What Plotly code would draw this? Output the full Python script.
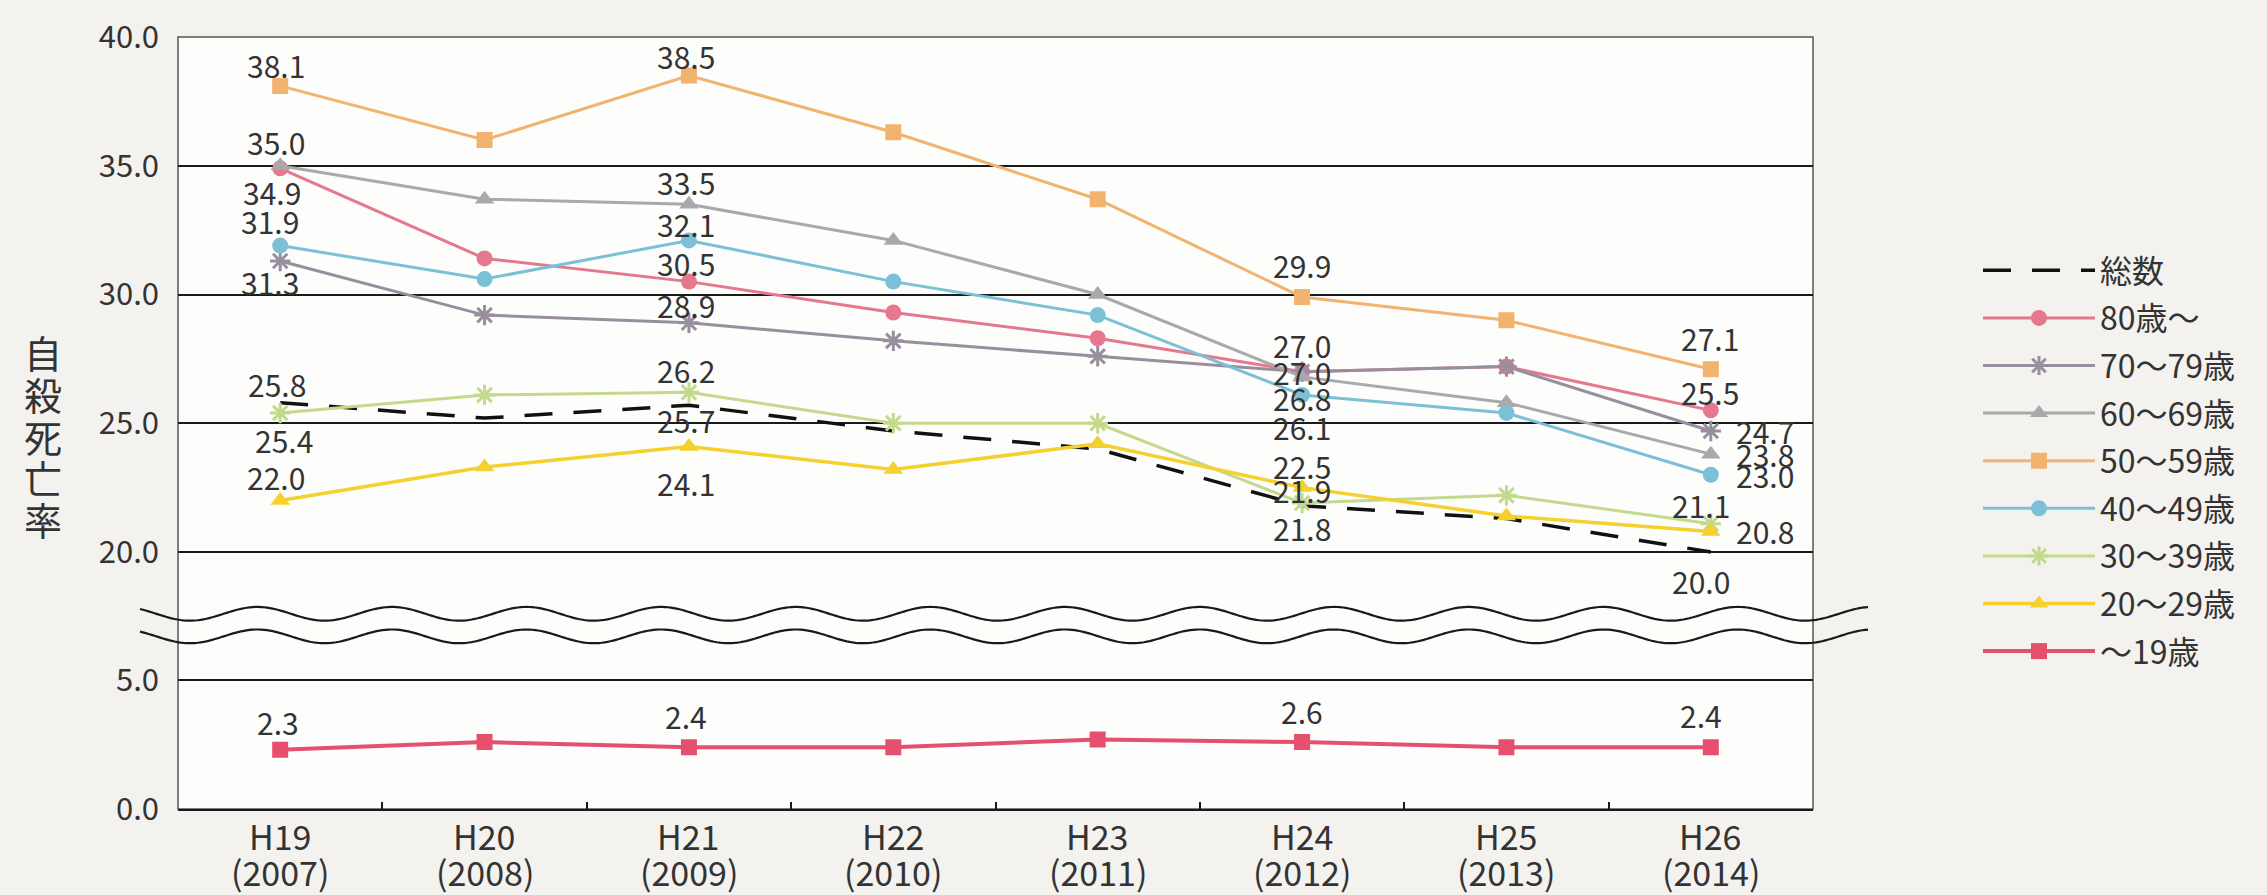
import numpy as np
import plotly.graph_objects as go

# ---- data -------------------------------------------------------------
years = ["H19", "H20", "H21", "H22", "H23", "H24", "H25", "H26"]
years_ad = ["(2007)", "(2008)", "(2009)", "(2010)", "(2011)", "(2012)", "(2013)", "(2014)"]

total = [25.8, 25.2, 25.7, 24.7, 24.0, 21.8, 21.3, 20.0]
age80 = [34.9, 31.4, 30.5, 29.3, 28.3, 27.0, 27.2, 25.5]
age70 = [31.3, 29.2, 28.9, 28.2, 27.6, 27.0, 27.2, 24.7]
age60 = [35.0, 33.7, 33.5, 32.1, 30.0, 26.8, 25.8, 23.8]
age50 = [38.1, 36.0, 38.5, 36.3, 33.7, 29.9, 29.0, 27.1]
age40 = [31.9, 30.6, 32.1, 30.5, 29.2, 26.1, 25.4, 23.0]
age30 = [25.4, 26.1, 26.2, 25.0, 25.0, 21.9, 22.2, 21.1]
age20 = [22.0, 23.3, 24.1, 23.2, 24.2, 22.5, 21.4, 20.8]
age19 = [2.3, 2.6, 2.4, 2.4, 2.7, 2.6, 2.4, 2.4]

upper_ticks = [20, 25, 30, 35, 40]
lower_ticks = [0, 5]
axis_title = "自殺死亡率"

# ---- page geometry -------------------------------------------------------
W, H = 2267, 895
ML, MR, MT, MB = 178, 454, 22, 86
PW, PH = W - ML - MR, H - MT - MB
PX_PER_UNIT = 26.25
UPPER_BOTTOM_PX = 610   # bottom edge of the 20-40 panel
LOWER_TOP_PX = 633      # top edge of the 0-5 panel
AXIS_PX = H - MB        # pixel row of the category axis


def paper_y(py):
    return (H - MB - py) / PH


def paper_x(px):
    return (px - ML) / PW


d_upper = paper_y(UPPER_BOTTOM_PX)
d_lower = paper_y(LOWER_TOP_PX)
upper_min = 40 - (UPPER_BOTTOM_PX - MT) / PX_PER_UNIT
lower_max = (H - MB - LOWER_TOP_PX) / PX_PER_UNIT

FONT = "Noto Sans CJK JP, Liberation Sans, sans-serif"
TXT = "#333333"
PLOT_BG = "#fdfdfc"

series = [
    # name, values, color, symbol, axis, line width, dash
    ("総数", total, "#111111", None, "y", 3.5, "28px,21px"),
    ("80歳～", age80, "#e5788e", "circle", "y", 3, None),
    ("70～79歳", age70, "#998e9e", "asterisk-open", "y", 3, None),
    ("60～69歳", age60, "#a9a8ab", "triangle-up", "y", 3, None),
    ("50～59歳", age50, "#f2b36e", "square", "y", 3, None),
    ("40～49歳", age40, "#7bc0d6", "circle", "y", 3, None),
    ("30～39歳", age30, "#c3d98c", "asterisk-open", "y", 3, None),
    ("20～29歳", age20, "#f4d12e", "triangle-up", "y", 3.5, None),
    ("～19歳", age19, "#e64f6e", "square", "y2", 4, None),
]

# value labels: series -> list of (point index, xshift, yshift, xanchor)
value_labels = {
    "総数": [(0, -3, 19, "center"), (2, -3, -15, "center"), (5, 0, -22, "center"), (7, -10, -29, "center")],
    "80歳～": [(0, -8, -24, "center"), (2, -3, 19, "center"), (5, 0, 27, "center"), (7, -1, 18, "center")],
    "70～79歳": [(0, -10, -21, "center"), (2, -3, 18, "center"), (5, 0, 0, "center"), (7, 23, 0, "left")],
    "60～69歳": [(0, -4, 24, "center"), (2, -3, 22, "center"), (5, 0, -21, "center"), (7, 23, 0, "left")],
    "50～59歳": [(0, -4, 21, "center"), (2, -3, 20, "center"), (5, 0, 32, "center"), (7, -1, 31, "center")],
    "40～49歳": [(0, -10, 25, "center"), (2, -3, 16, "center"), (5, 0, -32, "center"), (7, 23, 0, "left")],
    "30～39歳": [(0, 4, -27, "center"), (2, -3, 22, "center"), (5, 0, 13, "center"), (7, -10, 19, "center")],
    "20～29歳": [(0, -4, 23, "center"), (2, -3, -37, "center"), (5, 0, 22, "center"), (7, 23, 0, "left")],
    "～19歳": [(0, -2, 28, "center"), (2, -3, 31, "center"), (5, 0, 31, "center"), (7, -10, 32, "center")],
}

fig = go.Figure()
annotations = []

for rank, (name, vals, color, symbol, yax, lw, dash) in enumerate(series):
    line = dict(color=color, width=lw)
    if dash:
        line["dash"] = dash
    kw = dict(mode="lines")
    if symbol:
        kw["mode"] = "lines+markers"
        size = 16 if symbol in ("square", "circle") else 17
        kw["marker"] = dict(symbol=symbol, size=size, color=color,
                            line=dict(color=color, width=3 if "open" in symbol else 0))
    fig.add_trace(go.Scatter(
        x=years, y=vals, name=name, line=line, yaxis=yax, xaxis="x",
        legendgroup=name, legendrank=rank + 1, **kw))
    for idx, xs, ys, anchor in value_labels[name]:
        annotations.append(dict(
            x=years[idx], y=vals[idx], xref="x", yref=yax,
            text=f"{vals[idx]:.1f}", showarrow=False,
            xshift=xs, yshift=ys, xanchor=anchor, yanchor="middle",
            font=dict(family=FONT, size=30, color=TXT)))

# two-line category labels under the axis
for cat, ad in zip(years, years_ad):
    for txt, row_px in ((cat, 835), (ad, 871)):
        annotations.append(dict(
            x=cat, y=0, xref="x", yref="paper", text=txt, showarrow=False,
            yshift=-(row_px - AXIS_PX), yanchor="middle",
            font=dict(family=FONT, size=34, color=TXT)))

# vertical axis title, one upright character per row
for i, ch in enumerate(axis_title):
    annotations.append(dict(
        x=paper_x(43), y=paper_y(343 + 42.4 * i), xref="paper", yref="paper",
        text=ch, showarrow=False, xanchor="center", yanchor="middle",
        font=dict(family=FONT, size=38, color=TXT)))

# ---- axis break: two parallel wavy lines ----------------------------------
shapes = [
    # keep the gap between the two panels the same colour as the plot
    dict(type="rect", xref="paper", yref="paper", x0=0, x1=1,
         y0=d_lower, y1=d_upper, fillcolor=PLOT_BG, line=dict(width=0), layer="below"),
]
PERIOD = 134.6
TROUGH_X = 190
xs_px = np.linspace(140, 1868, 600)
phase = 2 * np.pi * (xs_px - TROUGH_X) / PERIOD - np.pi / 2
for center_px in (UPPER_BOTTOM_PX, LOWER_TOP_PX):
    ys_px = center_px - 7 * np.sin(phase)  # screen y grows downward
    pts = [f"{paper_x(a):.5f},{paper_y(b):.5f}" for a, b in zip(xs_px, ys_px)]
    shapes.append(dict(type="path", xref="paper", yref="paper",
                       path="M" + " L".join(pts),
                       line=dict(color="#1a1a1a", width=2.2), layer="above"))

# plot frame (continuous through the break)
shapes.append(dict(type="rect", xref="paper", yref="paper", x0=0, x1=1, y0=0, y1=1,
                   line=dict(color="#555555", width=1.5), layer="below"))

tick_font = dict(family=FONT, size=31, color=TXT)

fig.update_layout(
    width=W, height=H,
    margin=dict(l=ML, r=MR, t=MT, b=MB),
    paper_bgcolor="#f3f2ef",
    plot_bgcolor=PLOT_BG,
    font=dict(family=FONT, color=TXT),
    showlegend=True,
    legend=dict(
        x=paper_x(1978), y=paper_y(232), xanchor="left", yanchor="top",
        font=dict(family=FONT, size=32, color=TXT),
        bgcolor="rgba(0,0,0,0)", tracegroupgap=3, itemwidth=112,
    ),
    xaxis=dict(
        type="category", range=[-0.5, len(years) - 0.5], anchor="y2",
        tickson="boundaries", ticks="inside", ticklen=7, tickwidth=1.5,
        tickcolor="#1a1a1a", showgrid=False, showline=True,
        linecolor="#1a1a1a", linewidth=2, zeroline=False,
        showticklabels=False,
    ),
    yaxis=dict(
        domain=[d_upper, 1], range=[upper_min, 40],
        tickvals=upper_ticks, ticktext=[f"{v:.1f}" for v in upper_ticks],
        showgrid=True, gridcolor="#1a1a1a", gridwidth=1.8, zeroline=False,
        showline=False, ticks="", ticklabelstandoff=18,
        ticklabeloverflow="allow", tickfont=tick_font,
    ),
    yaxis2=dict(
        domain=[0, d_lower], range=[0, lower_max], anchor="x",
        tickvals=lower_ticks, ticktext=[f"{v:.1f}" for v in lower_ticks],
        showgrid=True, gridcolor="#1a1a1a", gridwidth=1.8, zeroline=False,
        showline=False, ticks="", ticklabelstandoff=18,
        ticklabeloverflow="allow", tickfont=tick_font,
    ),
    annotations=annotations,
    shapes=shapes,
)

fig.write_html("out.html")
